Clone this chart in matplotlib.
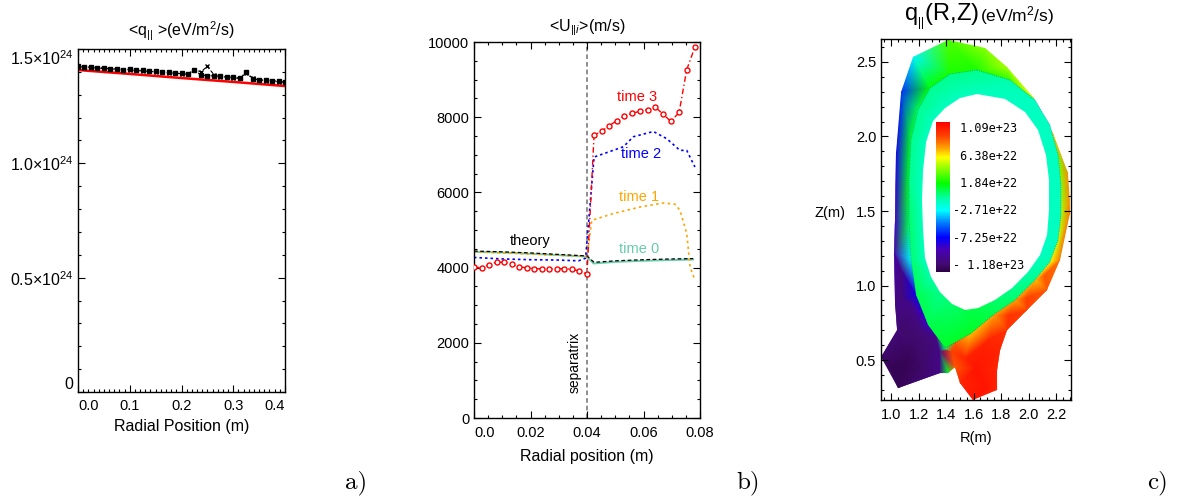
import numpy as np
import matplotlib
matplotlib.use('Agg')
import matplotlib.pyplot as plt
from matplotlib.colors import LinearSegmentedColormap, Normalize
from matplotlib.patches import Polygon
from matplotlib.ticker import MultipleLocator, FixedLocator
import matplotlib.tri as mtri
import matplotlib.colorbar as mcolorbar

plt.rcParams['font.family'] = ['Liberation Sans', 'DejaVu Sans']
plt.rcParams['mathtext.fontset'] = 'custom'
plt.rcParams['mathtext.rm'] = 'Liberation Sans'
plt.rcParams['mathtext.it'] = 'Liberation Sans:italic'
plt.rcParams['mathtext.bf'] = 'Liberation Sans:bold'

# ---------------- Panel a data (units 1e24 eV/m^2/s) ----------------
qa_x = [0.000, 0.0125, 0.025, 0.0375, 0.050, 0.0625, 0.075, 0.0875, 0.100, 0.1125,
        0.125, 0.1375, 0.150, 0.1625, 0.175, 0.1875, 0.200, 0.2125, 0.225, 0.2375,
        0.250, 0.2625, 0.275, 0.2875, 0.300, 0.3125, 0.325, 0.3375, 0.350, 0.3625,
        0.375, 0.3875, 0.400]
qa_sq = [1.424, 1.420, 1.421, 1.417, 1.418, 1.414, 1.413, 1.410, 1.411, 1.407,
         1.406, 1.404, 1.402, 1.400, 1.399, 1.396, 1.395, 1.392, 1.408, 1.386,
         1.384, 1.382, 1.380, 1.377, 1.378, 1.372, 1.398, 1.368, 1.366, 1.364,
         1.362, 1.358, 1.356]
qa_xm = [1.422, 1.419, 1.418, 1.416, 1.415, 1.413, 1.411, 1.409, 1.408, 1.406,
         1.404, 1.402, 1.400, 1.398, 1.396, 1.394, 1.392, 1.390, 1.410, 1.400,
         1.424, 1.388, 1.378, 1.376, 1.374, 1.372, 1.396, 1.372, 1.364, 1.362,
         1.360, 1.357, 1.354]
qa_red_x = [0.0, 0.1, 0.2, 0.3, 0.4]
qa_red = [1.408, 1.391, 1.373, 1.356, 1.338]
qa_yticks = [0.0, 0.5, 1.0, 1.5]
qa_ylabels = ['0', r'0.5$\times$10$^{24}$', r'1.0$\times$10$^{24}$', r'1.5$\times$10$^{24}$']

# ---------------- Panel b data (m/s) ----------------
t3_x = [0.0, 0.0027, 0.0053, 0.008, 0.0107, 0.0133, 0.016, 0.0187, 0.0213, 0.024,
        0.0267, 0.0293, 0.032, 0.0347, 0.0373, 0.040, 0.0425, 0.0452, 0.0479, 0.0505,
        0.0532, 0.056, 0.0588, 0.0615, 0.0642, 0.067, 0.0697, 0.0726, 0.0753, 0.0782]
t3_y = [4019, 3992, 4082, 4143, 4143, 4090, 4019, 3992, 3976, 3966,
        3966, 3966, 3976, 3950, 3913, 3825, 7517, 7631, 7774, 7907,
        8029, 8101, 8162, 8199, 8268, 8074, 7888, 8127, 9262, 9870]
t2_x = [0.0, 0.01, 0.02, 0.03, 0.037, 0.0395, 0.0425, 0.0529, 0.0564, 0.0635, 0.0682, 0.0729, 0.0753, 0.0782]
t2_y = [4270, 4230, 4210, 4200, 4180, 4250, 6940, 7215, 7480, 7620, 7430, 7118, 7118, 6675]
t1_x = [0.0, 0.01, 0.02, 0.03, 0.040, 0.0417, 0.0493, 0.0588, 0.067, 0.0712, 0.0729, 0.0753, 0.0765, 0.0782]
t1_y = [4420, 4390, 4360, 4330, 4300, 5259, 5437, 5612, 5719, 5684, 5525, 4906, 4019, 3665]
t0_x = [0.0, 0.01, 0.02, 0.03, 0.040, 0.0423, 0.05, 0.06, 0.07, 0.0776]
t0_y = [4417, 4400, 4370, 4330, 4290, 4108, 4150, 4180, 4200, 4214]
th_x = [0.0, 0.01, 0.02, 0.03, 0.040, 0.0425, 0.05, 0.06, 0.07, 0.0776]
th_y = [4440, 4420, 4390, 4350, 4310, 4140, 4180, 4210, 4230, 4240]
sep_x = 0.04

# ---------------- Panel c data: q_par(R,Z) samples (units 1e22) ----------------
# outer boundary (wall side of SOL + divertor legs)
wall_R = [1.415, 1.684, 1.844, 2.033, 2.178, 2.287, 2.300, 2.302, 2.229, 2.135,
          1.989, 1.844, 1.793, 1.771, 1.771, 1.596, 1.502, 1.465, 1.415, 1.356,
          1.051, 0.927, 1.044, 1.029, 1.022, 1.029, 1.036, 1.073, 1.160]
wall_Z = [2.648, 2.594, 2.466, 2.265, 2.023, 1.755, 1.574, 1.487, 1.171, 0.970,
          0.836, 0.701, 0.567, 0.433, 0.299, 0.232, 0.346, 0.453, 0.413, 0.413,
          0.312, 0.520, 0.701, 0.883, 1.218, 1.440, 1.889, 2.299, 2.534]
wall_q = [3.0, 4.0, 4.5, 5.5, 7.0, 8.0, 8.0, 8.5, 8.5, 9.0,
          9.5, 10.0, 10.5, 10.5, 10.5, 11.0, 10.5, 9.0, 1.0, -11.0,
          -12.5, -12.0, -11.5, -11.0, -10.0, -9.0, -8.0, -6.5, -3.0]
# separatrix
sx_R = [1.625, 1.865, 2.047, 2.156, 2.215, 2.236, 2.236, 2.215, 2.156, 2.047,
        1.902, 1.742, 1.575, 1.393, 1.269, 1.182, 1.145, 1.131, 1.131, 1.145,
        1.196, 1.284, 1.429]
sx_Z = [2.446, 2.379, 2.245, 2.077, 1.876, 1.674, 1.473, 1.305, 1.158, 1.037,
        0.903, 0.802, 0.674, 0.581, 0.735, 0.936, 1.171, 1.440, 1.708, 1.977,
        2.178, 2.326, 2.419]
sx_q_sol = [2.0, 2.5, 3.0, 3.0, 3.5, 4.0, 4.5, 5.0, 6.0, 7.0,
            7.5, 7.5, 7.0, 0.0, -9.0, -8.0, -3.0, 0.5, 1.0, 1.0,
            0.5, 1.5, 2.0]
sx_q_core = [-0.5, -1.0, -1.5, -1.5, -1.5, -1.5, -1.5, -1.5, -1.0, -0.5,
             0.0, 0.5, 1.0, 1.0, 0.5, 0.5, 0.0, 0.0, -0.5, -0.5,
             -0.5, -0.5, -0.5]
# extra SOL / leg interior samples
leg_R = [1.123, 1.233, 1.087, 1.080, 1.073, 1.000, 1.160, 1.300, 1.220, 1.140,
         1.355, 1.330,
         1.706, 1.851, 1.982, 2.113, 1.611, 1.684, 1.538, 1.440, 1.470]
leg_Z = [0.500, 0.446, 0.701, 0.903, 1.104, 0.450, 0.620, 0.600, 0.700, 0.880,
         0.560, 0.650,
         0.634, 0.802, 0.916, 1.071, 0.446, 0.312, 0.513, 0.560, 0.610]
leg_q = [-12.5, -12.0, -12.0, -11.5, -11.0, -12.5, -12.0, -11.5, -11.5, -11.0,
         -11.0, -11.0,
         10.5, 10.0, 9.5, 9.0, 11.0, 11.0, 10.5, 9.5, 9.0]
# inner core boundary (white hole)
hole_R = [1.625, 1.829, 1.975, 2.069, 2.127, 2.149, 2.149, 2.135, 2.084, 1.996,
          1.880, 1.756, 1.633, 1.538, 1.444, 1.356, 1.291, 1.247, 1.233, 1.225,
          1.233, 1.255, 1.305, 1.393, 1.502]
hole_Z = [2.285, 2.252, 2.164, 2.044, 1.876, 1.708, 1.507, 1.339, 1.205, 1.091,
          0.983, 0.903, 0.849, 0.836, 0.876, 0.956, 1.057, 1.185, 1.372, 1.574,
          1.775, 1.963, 2.104, 2.191, 2.258]
hole_q = [-1.5, -1.5, -1.5, -1.5, -1.5, -1.5, -1.5, -1.5, -1.5, -1.0,
          -0.5, 0.0, 0.5, 0.5, 0.0, -0.5, -1.0, -1.5, -1.5, -1.5,
          -1.5, -1.5, -1.5, -1.5, -1.5]
cbar_ticks = [10.9, 6.38, 1.84, -2.71, -7.25, -11.8]
cbar_labels = [' 1.09e+23', ' 6.38e+22', ' 1.84e+22', '-2.71e+22', '-7.25e+22', '- 1.18e+23']
q_min, q_max = -13.07, 11.77

cmap = LinearSegmentedColormap.from_list('idl', [
    (0.00, '#2e0046'), (0.05, '#420a70'), (0.15, '#4800b8'), (0.23, '#0000ff'),
    (0.33, '#0080ff'), (0.41, '#00ffff'), (0.49, '#00ffa8'), (0.59, '#00ff00'),
    (0.71, '#a8ff00'), (0.765, '#ffff00'), (0.83, '#ffa000'), (0.91, '#ff4000'),
    (1.00, '#ff0000')])

FW, FH = 1178, 504
def frac(l, t, r, b):
    return [l / FW, 1 - b / FH, (r - l) / FW, (b - t) / FH]

def style(ax):
    ax.tick_params(which='both', direction='in', top=True, right=True,
                   labelsize=10.5, width=0.8)
    ax.tick_params(which='major', length=5)
    ax.tick_params(which='minor', length=2.5)
    for s in ax.spines.values():
        s.set_linewidth(1.0)

fig = plt.figure(figsize=(FW / 100, FH / 100), dpi=100)

# ---------------- Panel a ----------------
axa = fig.add_axes(frac(78, 49, 285, 392))
axa.plot(qa_red_x, qa_red, color='red', lw=1.8, zorder=2)
axa.plot(qa_x, qa_xm, color='black', ls=(0, (3, 2)), lw=0.8, marker='x', ms=3.5, mew=1.0, zorder=3)
axa.plot(qa_x, qa_sq, color='black', ls=':', lw=0.9, marker='s', ms=2.8, zorder=3)
axa.set_xlim(0, 0.4)
axa.set_ylim(0, 1.5)
axa.set_xticks([0.0, 0.1, 0.2, 0.3, 0.4])
axa.set_xticklabels(['0.0', '0.1', '0.2', '0.3', '0.4'])
axa.xaxis.set_minor_locator(MultipleLocator(0.01))
axa.yaxis.set_major_locator(FixedLocator(qa_yticks))
axa.set_yticklabels(qa_ylabels)
axa.yaxis.set_minor_locator(MultipleLocator(0.1))
style(axa)
axa.tick_params(axis='y', labelsize=11.5)
axa.tick_params(axis='x', pad=5)
xl = axa.get_xticklabels()
xl[0].set_ha('left')
xl[-1].set_ha('right')
yl = axa.get_yticklabels()
yl[0].set_va('bottom')
yl[-1].set_va('top')
axa.set_xlabel('Radial Position (m)', fontsize=11.5, labelpad=4)
axa.set_title(r'<q$_{||}$ >(eV/m$^{2}$/s)', fontsize=11.5, pad=9)

# ---------------- Panel b ----------------
axb = fig.add_axes(frac(474, 42, 700, 418))
axb.axvline(sep_x, color='#707070', ls=(0, (3, 2)), lw=1.1, zorder=1)
axb.plot(th_x, th_y, color='black', ls=(0, (3, 2)), lw=0.9, zorder=3)
axb.plot(t0_x, t0_y, color='#66CDAA', ls='-', lw=1.3, zorder=2)
axb.plot(t1_x, t1_y, color='#FFA500', ls=(0, (1.5, 2)), lw=1.2, zorder=2)
axb.plot(t2_x, t2_y, color='blue', ls=(0, (1.5, 1.8)), lw=1.2, zorder=2)
axb.plot(t3_x, t3_y, color='red', ls=(0, (4, 2, 1, 2)), lw=1.0, marker='o', ms=3.6,
         mfc='white', mec='red', mew=1.0, zorder=4)
axb.set_xlim(0, 0.08)
axb.set_ylim(0, 10000)
axb.set_xticks([0.0, 0.02, 0.04, 0.06, 0.08])
axb.set_xticklabels(['0.0', '0.02', '0.04', '0.06', '0.08'])
axb.xaxis.set_minor_locator(MultipleLocator(0.005))
axb.yaxis.set_major_locator(MultipleLocator(2000))
axb.yaxis.set_minor_locator(MultipleLocator(500))
style(axb)
axb.tick_params(axis='x', pad=6)
bx = axb.get_xticklabels()
bx[0].set_ha('left')
by = axb.get_yticklabels()
by[0].set_va('bottom')
by[-1].set_va('top')
axb.set_xlabel('Radial position (m)', fontsize=11.5, labelpad=6)
axb.set_title(r'<U$_{||i}$>(m/s)', fontsize=11.5, pad=8)
axb.text(0.0198, 4709, 'theory', color='black', fontsize=10.5, ha='center', va='center')
axb.text(0.0577, 8526, 'time 3', color='red', fontsize=10.5, ha='center', va='center')
axb.text(0.0591, 7012, 'time 2', color='blue', fontsize=10.5, ha='center', va='center')
axb.text(0.0583, 5878, 'time 1', color='#FFA500', fontsize=10.5, ha='center', va='center')
axb.text(0.0584, 4489, 'time 0', color='#66CDAA', fontsize=10.5, ha='center', va='center')
axb.text(0.0358, 1487, 'separatrix', rotation=90, fontsize=10, ha='center', va='center')

# ---------------- Panel c ----------------
axc = fig.add_axes(frac(881, 39, 1071, 400))
norm = Normalize(q_min, q_max)

sol_R = np.array(wall_R + sx_R + leg_R)
sol_Z = np.array(wall_Z + sx_Z + leg_Z)
sol_q = np.array(wall_q + sx_q_sol + leg_q)
tri_sol = mtri.Triangulation(sol_R, sol_Z)
m1 = axc.tripcolor(tri_sol, sol_q, cmap=cmap, norm=norm, shading='gouraud', zorder=1)
wall_patch = Polygon(np.column_stack([wall_R, wall_Z]), closed=True, facecolor='none',
                     edgecolor='none', transform=axc.transData)
axc.add_patch(wall_patch)
m1.set_clip_path(wall_patch)

core_R = np.array(sx_R + hole_R)
core_Z = np.array(sx_Z + hole_Z)
core_q = np.array(sx_q_core + hole_q)
tri_core = mtri.Triangulation(core_R, core_Z)
m2 = axc.tripcolor(tri_core, core_q, cmap=cmap, norm=norm, shading='gouraud', zorder=2)
sep_patch = Polygon(np.column_stack([sx_R, sx_Z]), closed=True, facecolor='none',
                    edgecolor='none', transform=axc.transData)
axc.add_patch(sep_patch)
m2.set_clip_path(sep_patch)
axc.plot(sx_R + sx_R[:1], sx_Z + sx_Z[:1], color='#1030a0', ls=':', lw=0.6, alpha=0.5, zorder=3)
axc.add_patch(Polygon(np.column_stack([hole_R, hole_Z]), closed=True, facecolor='white',
                      edgecolor='none', zorder=4))

axc.set_xlim(0.927, 2.309)
axc.set_ylim(0.232, 2.654)
axc.set_xticks([1.0, 1.2, 1.4, 1.6, 1.8, 2.0, 2.2])
axc.set_xticklabels(['1.0', '1.2', '1.4', '1.6', '1.8', '2.0', '2.2'])
axc.xaxis.set_minor_locator(MultipleLocator(0.05))
axc.set_yticks([0.5, 1.0, 1.5, 2.0, 2.5])
axc.set_yticklabels(['0.5', '1.0', '1.5', '2.0', '2.5'])
axc.yaxis.set_minor_locator(MultipleLocator(0.1))
style(axc)
axc.tick_params(axis='x', pad=6)
axc.set_xlabel('R(m)', fontsize=10.5, labelpad=6)
fig.text(830 / FW, 1 - 213 / FH, 'Z(m)', fontsize=10.5, ha='center', va='center')
fig.text(979 / FW, 1 - 17 / FH, r'q$_{_{||}}$(R,Z)', fontsize=17, ha='right', va='center')
fig.text(980 / FW, 1 - 16 / FH, r'(eV/m$^{2}$/s)', fontsize=12.5, ha='left', va='center')

cax = fig.add_axes(frac(936, 122, 950, 272))
cb = mcolorbar.ColorbarBase(cax, cmap=cmap, norm=norm, orientation='vertical')
cb.outline.set_visible(False)
cb.set_ticks(cbar_ticks)
cb.set_ticklabels(cbar_labels)
cax.tick_params(length=0, pad=2, labelsize=8.5)
for lab in cax.get_yticklabels():
    lab.set_fontfamily('DejaVu Sans Mono')
cax.set_zorder(6)

# panel letters
for lx, letter in [(356, 'a)'), (748, 'b)'), (1158, 'c)')]:
    fig.text(lx / FW, 1 - 483 / FH, letter, fontfamily='cmr10', fontsize=18, ha='center', va='center')

fig.savefig('out.png', dpi=100)
